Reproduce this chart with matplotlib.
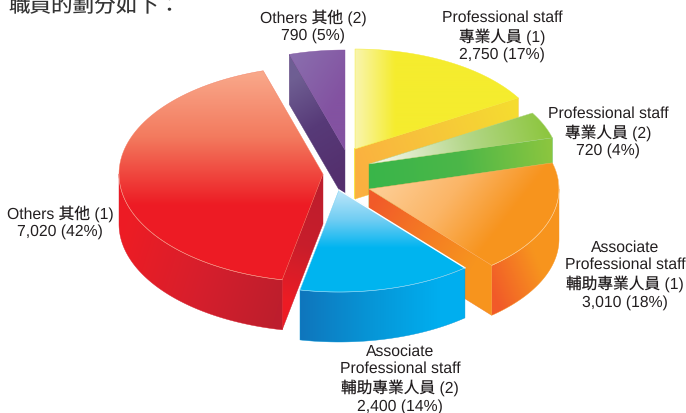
import numpy as np
import matplotlib
matplotlib.use("Agg")
import matplotlib.pyplot as plt
from matplotlib.colors import LinearSegmentedColormap
from matplotlib.patches import Polygon

plt.rcParams["font.family"] = ["Liberation Sans", "Noto Sans CJK TC"]
plt.rcParams["text.hinting"] = "no_hinting"

HEADING = "職員的劃分如下："
NAMES = ["Professional staff\n專業人員 (1)", "Professional staff\n專業人員 (2)",
         "Associate\nProfessional staff\n輔助專業人員 (1)",
         "Associate\nProfessional staff\n輔助專業人員 (2)",
         "Others 其他 (1)", "Others 其他 (2)"]
VALUES = [2750, 720, 3010, 2400, 7020, 790]
PERCENTS = [17, 4, 18, 14, 42, 5]

# where each slice was pulled to, in pixels of the picture
APEX = [(355, 149), (369, 164), (369, 189), (339, 190), (323, 174), (345, 150)]
RADII = [(190, 100), (190, 100), (190, 100), (195, 102), (204, 108), (190, 100)]
LABEL_POS = [(502, 36), (608, 132), (625, 275), (400, 379), (60, 222), (313, 26)]
DEPTH = 50

fig = plt.figure(figsize=(6.86, 4.13), dpi=100)
ax = fig.add_axes([0, 0, 1, 1])
layer = [1]


def next_z():
    layer[0] += 1
    return layer[0]


def shade(pts, p0, p1, colors):
    # polygon filled by a linear gradient running from p0 to p1
    pts = np.asarray(pts, float)
    x0, y0 = pts.min(axis=0)
    x1, y1 = pts.max(axis=0)
    nx, ny = int(x1 - x0) * 2 + 2, int(y1 - y0) * 2 + 2
    xx, yy = np.meshgrid(np.linspace(x0, x1, nx), np.linspace(y0, y1, ny))
    dx, dy = p1[0] - p0[0], p1[1] - p0[1]
    t = ((xx - p0[0]) * dx + (yy - p0[1]) * dy) / (dx * dx + dy * dy)
    cmap = LinearSegmentedColormap.from_list("g", colors)
    img = ax.imshow(np.clip(t, 0, 1), cmap=cmap, vmin=0, vmax=1, aspect="auto",
                    extent=(x0, x1, y1, y0), origin="upper", interpolation="bilinear",
                    zorder=next_z())
    patch = Polygon(pts, closed=True, transform=ax.transData)
    img.set_clip_path(patch)
    # thin edge so the clipped picture does not look jagged
    mid = colors[len(colors) // 2]
    ax.add_patch(Polygon(pts, closed=True, fill=False, edgecolor=mid, lw=0.3, zorder=next_z()))


def arc(i, a0, a1, n=80):
    cx, cy = APEX[i]
    a, b = RADII[i]
    th = np.radians(np.linspace(a0, a1, n))
    return np.column_stack([cx + a * np.cos(th), cy - b * np.sin(th)])


def down(pts):
    return np.asarray(pts, float) + [0, DEPTH]


# slice angles from the values, clockwise from straight up
edges = 90 - np.concatenate([[0], np.cumsum(VALUES)]) / sum(VALUES) * 360
start = edges[:-1]
end = edges[1:]


def cut_face(i, ang):
    a = np.array(APEX[i], float)
    rim = arc(i, ang, ang, 1)[0]
    return [a, rim, rim + [0, DEPTH], a + [0, DEPTH]]


def top_face(i):
    return np.vstack([[APEX[i]], arc(i, start[i], end[i])])


def wall(i, a0, a1):
    top = arc(i, a0, a1)
    return np.vstack([top, down(top)[::-1]])


# purple
i = 5
shade(cut_face(i, start[i]), (290, 80), (345, 170), ["#6f5f93", "#573a78", "#54306e"])
shade(top_face(i), (290, 55), (345, 90), ["#8a6fae", "#8352a1"])

# yellow
i = 0
ax.plot([APEX[0][0]] * 2, [APEX[0][1], APEX[0][1] + DEPTH], color="#f7e92e", lw=1.2, zorder=next_z())
shade(cut_face(i, end[0]), (358, 180), (518, 120), ["#fbb040", "#f7c63a", "#f5dc30"])
shade(top_face(i), (355, 100), (395, 100), ["#f9f5ae", "#f5ec2e"])

# green
i = 1
shade(cut_face(i, end[1]), (369, 170), (553, 150), ["#39b54a", "#4cb748", "#8dc63f"])
shade(top_face(i), (385, 160), (545, 120), ["#f0f3e4", "#b4d78a", "#8dc63f"])

# orange
i = 2
shade(cut_face(i, end[2]), (369, 210), (470, 270), ["#f15a29", "#f47a24", "#f7941e"])
shade(wall(i, end[2], 0), (491, 290), (540, 270), ["#f15a29", "#f7941e"])
shade(top_face(i), (400, 170), (490, 240), ["#fdcb90", "#fbb566", "#f7941e"])
ax.plot(*arc(i, end[2], 5).T, color="#fcd5a0", lw=0.4, zorder=next_z())

# blue
i = 3
shade(wall(i, end[3], start[3]), (299, 320), (440, 320), ["#0f75bc", "#0795d6", "#00aeef"])
shade(top_face(i), (339, 192), (339, 248), ["#b9e5f9", "#6fcdf3", "#00b4f0"])
ax.plot(*top_face(i)[:2].T, color="white", lw=1.0, zorder=next_z())
ax.plot(*arc(i, start[3], end[3]).T, color="#8fd8f5", lw=0.4, zorder=next_z())

# red
i = 4
shade(wall(i, -180, start[4]), (119, 250), (279, 300), ["#ed1c24", "#d71f2c", "#be1e2d"])
shade(cut_face(i, start[4]), (320, 190), (282, 300), ["#be1e2d", "#c81e2b", "#ed1c24"])
shade(top_face(i), (250, 70), (250, 205), ["#f9aa8c", "#f37a5e", "#ed1c24"])
ax.plot(*arc(i, -180, start[4]).T, color="#f79a90", lw=0.4, zorder=next_z())

for name, val, pct, pos in zip(NAMES, VALUES, PERCENTS, LABEL_POS):
    ax.text(pos[0], pos[1], f"{name}\n{val:,} ({pct}%)", ha="center", va="center",
            fontsize=11.3, color="#231f20", linespacing=1.22, fontweight="light", zorder=100)

ax.text(8, 12, HEADING, fontsize=15.5, color="#333333", ha="left", va="baseline",
        fontweight="light", zorder=100)

ax.set_xlim(0, 686)
ax.set_ylim(413, 0)
ax.axis("off")
fig.savefig("out.png", dpi=100, facecolor="white")
